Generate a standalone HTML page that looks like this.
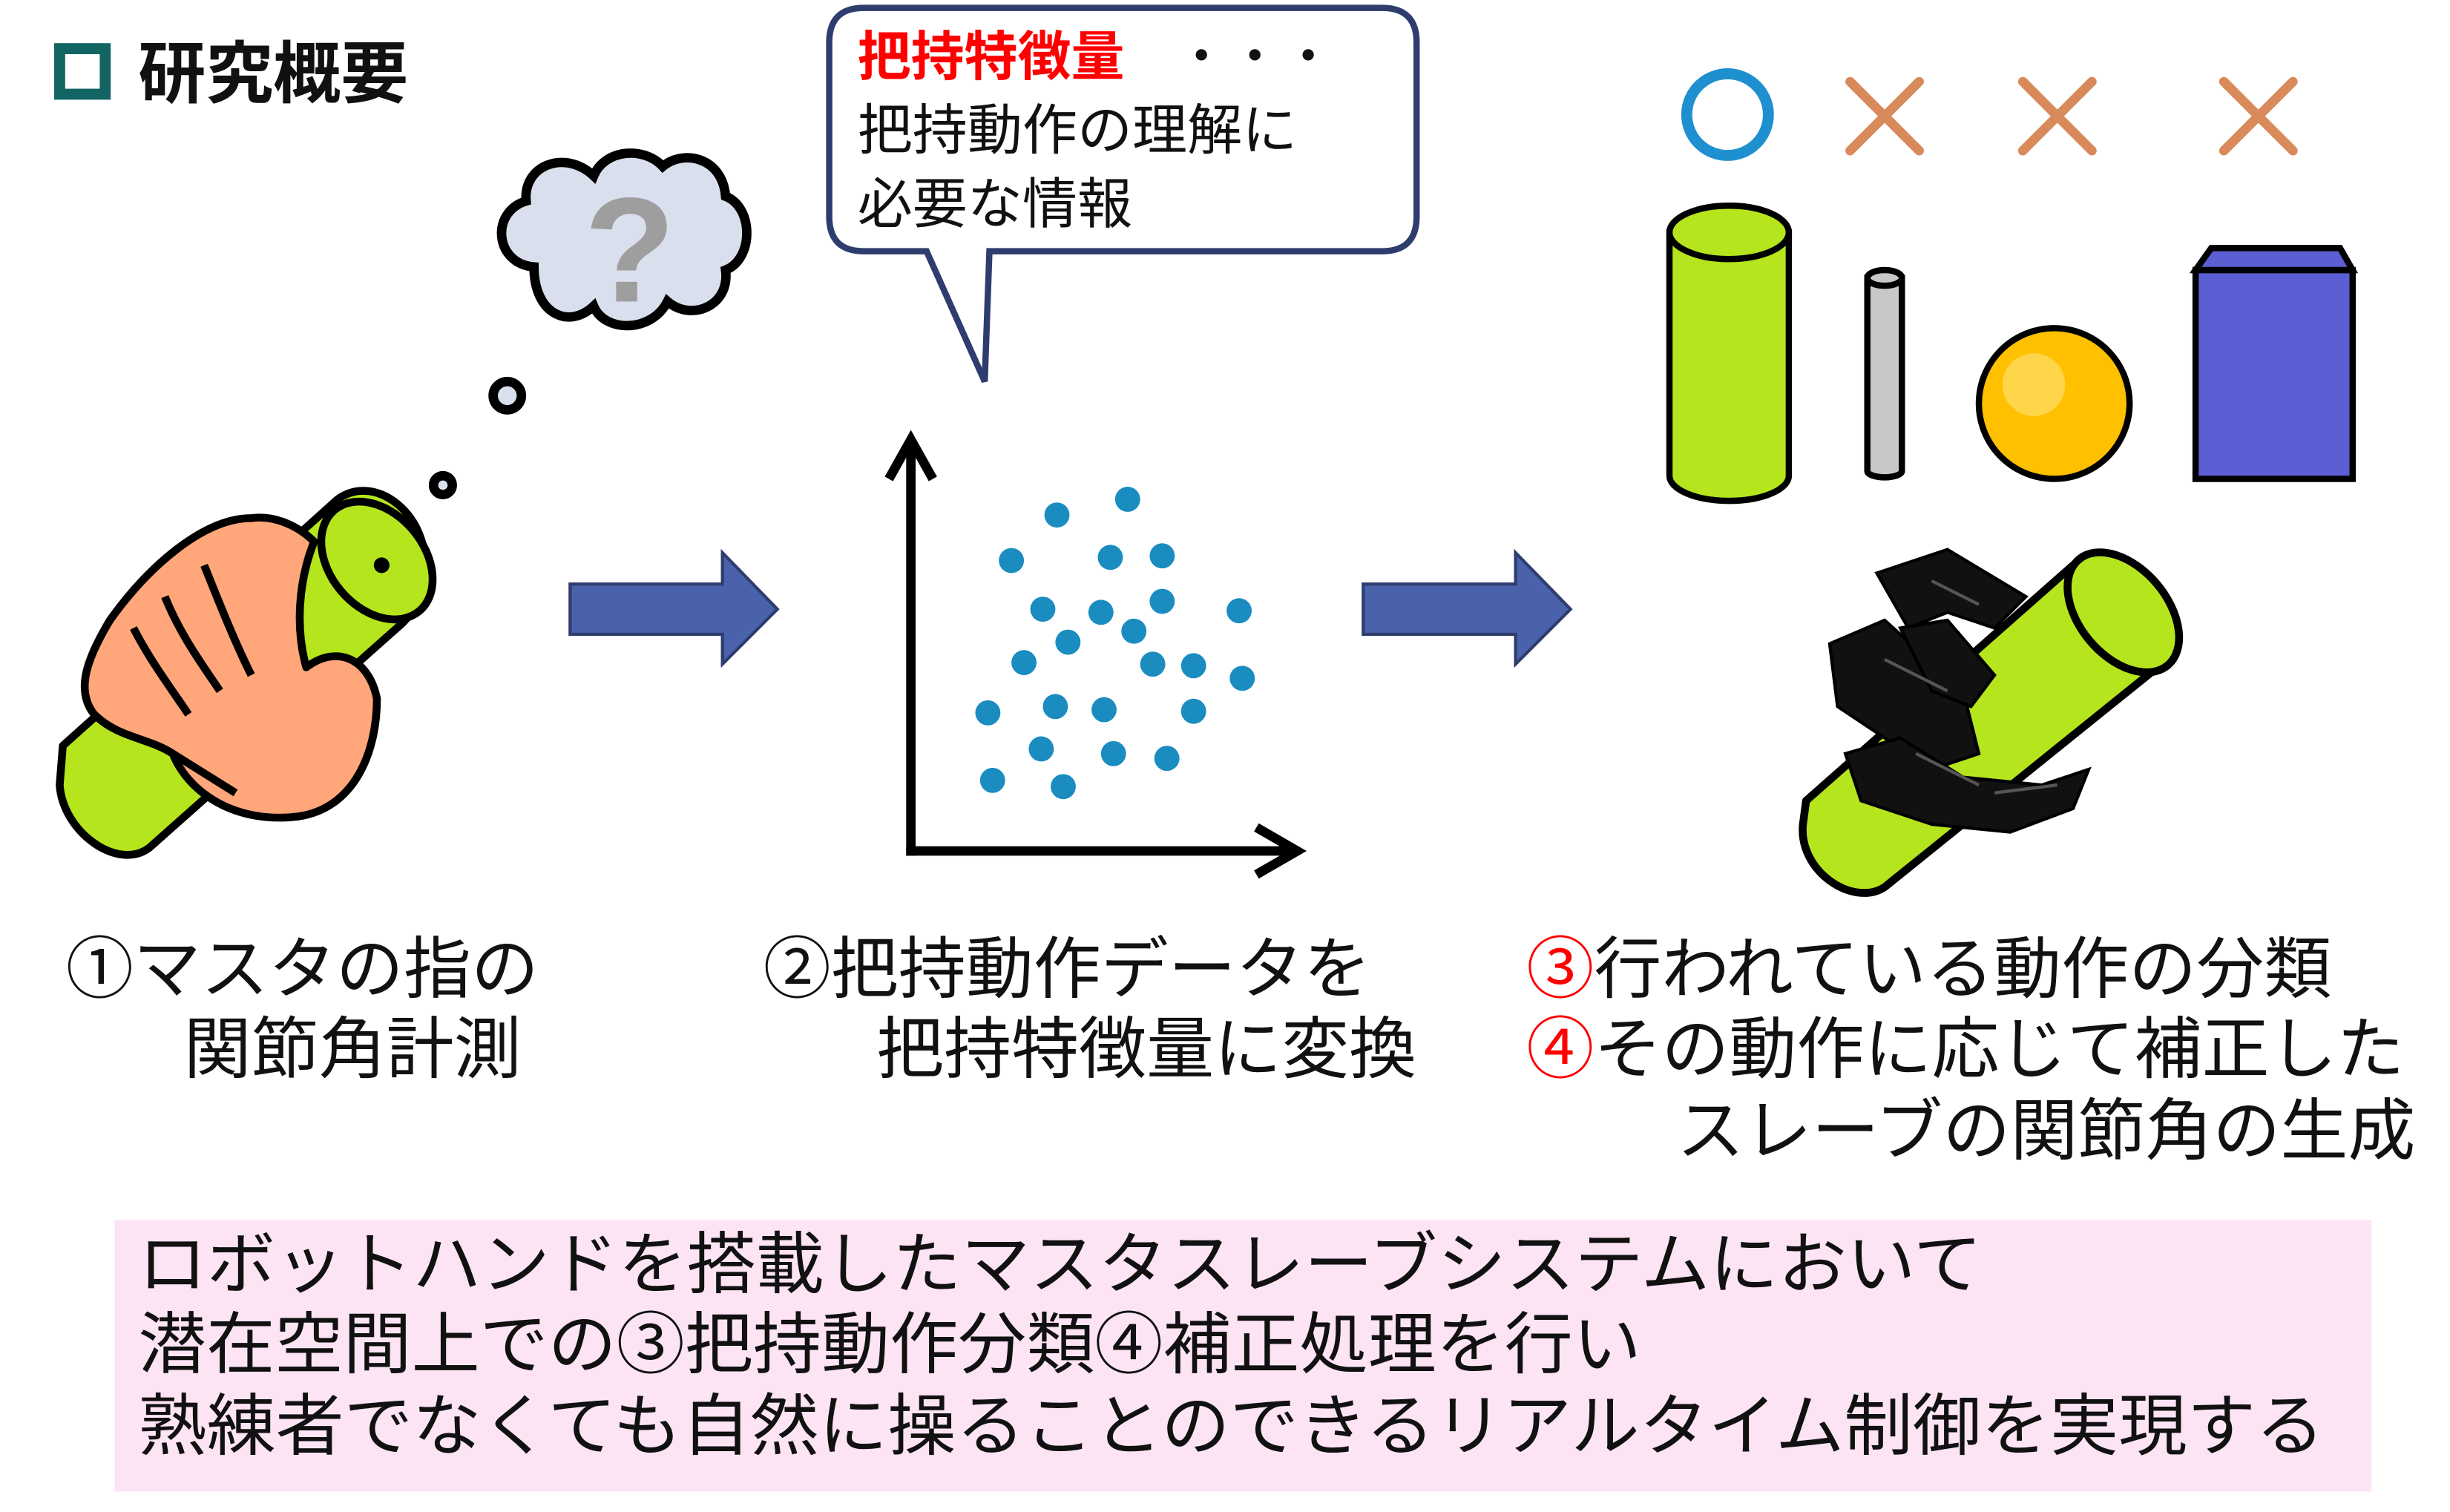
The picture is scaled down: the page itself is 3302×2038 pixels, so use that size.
<!DOCTYPE html>
<html><head><meta charset="utf-8"><style>
html,body{margin:0;padding:0;background:#fff;}
svg{display:block;}
text{font-family:"Liberation Sans","Noto Sans CJK JP",sans-serif;}
</style></head><body>
<svg width="3302" height="2038" viewBox="0 0 1560 963" preserveAspectRatio="none" xmlns="http://www.w3.org/2000/svg">
<rect width="1560" height="963" fill="#fff"/>
<!-- title -->
<rect x="38" y="31" width="29" height="29" fill="none" stroke="#136563" stroke-width="7"/>
<text x="88" y="62" font-size="43" font-weight="bold" fill="#111">研究概要</text>

<!-- thought cloud -->
<g stroke="#000" stroke-width="6" fill="#DADFEE">
<path d="M340,170 C315,168 312,135 335,128 C333,105 360,95 378,112 C385,95 410,93 422,106 C435,95 460,100 462,125 C480,132 480,165 462,172 C465,195 440,205 425,192 C415,212 385,212 378,195 C362,210 340,200 340,170 Z"/>
<circle cx="323" cy="252" r="9"/>
<circle cx="282" cy="309" r="6"/>
</g>
<text x="372" y="192" font-size="95" font-weight="bold" fill="#9E9E9E">?</text>

<!-- master hand -->
<g stroke="#000" stroke-width="5" stroke-linejoin="round">
<path d="M40,475 L215,318 C240,300 275,330 270,365 C268,380 262,392 255,398 L95,540 C75,555 40,530 38,500 Z" fill="#B5E61D"/>
<ellipse cx="240" cy="357" rx="30" ry="42" transform="rotate(-40 240 357)" fill="#B5E61D"/>
<path d="M160,330 C130,330 95,360 70,395 C55,420 48,440 60,455 C75,470 95,470 110,480 C120,505 150,525 190,520 C225,515 240,480 240,445 C235,420 215,410 195,425 C188,400 190,370 200,345 C190,335 175,328 160,330 Z" fill="#FFA67A"/>
<path d="M85,400 C95,420 110,440 120,455 M105,380 C115,405 130,425 140,440 M130,360 C140,385 150,410 160,430 M110,480 L150,505" fill="none"/>
</g>
<circle cx="243" cy="360" r="5" fill="#000"/>

<!-- arrows -->
<path d="M363,372 L460,372 L460,352 L495,388 L460,423 L460,404 L363,404 Z" fill="#4A62AC" stroke="#2E3D6E" stroke-width="2"/>
<path d="M868,372 L965,372 L965,352 L1000,388 L965,423 L965,404 L868,404 Z" fill="#4A62AC" stroke="#2E3D6E" stroke-width="2"/>

<!-- speech bubble -->
<path d="M550,5 L880,5 Q902,5 902,27 L902,138 Q902,160 880,160 L630,160 L627,243 L590,160 L550,160 Q528,160 528,138 L528,27 Q528,5 550,5 Z" fill="#fff" stroke="#2E3D6E" stroke-width="4"/>
<text x="546" y="48" font-size="34" font-weight="bold" fill="#FF0000">把持特徴量</text>
<text x="748" y="48" font-size="34" fill="#111">・・・</text>
<text x="546" y="95" font-size="35" fill="#111">把持動作の理解に</text>
<text x="546" y="142" font-size="35" fill="#111">必要な情報</text>

<!-- axes -->
<g stroke="#000" stroke-width="6" fill="none">
<line x1="580" y1="545" x2="580" y2="282"/>
<polyline points="566,305 580,280 594,305"/>
<line x1="577" y1="542" x2="826" y2="542"/>
<polyline points="800,527 826,542 800,557"/>
</g>
<g fill="#1A8CC0">
<circle cx="673" cy="328" r="8"/><circle cx="718" cy="318" r="8"/><circle cx="644" cy="357" r="8"/>
<circle cx="707" cy="355" r="8"/><circle cx="740" cy="354" r="8"/><circle cx="664" cy="388" r="8"/>
<circle cx="701" cy="390" r="8"/><circle cx="740" cy="383" r="8"/><circle cx="789" cy="389" r="8"/>
<circle cx="680" cy="409" r="8"/><circle cx="722" cy="402" r="8"/><circle cx="652" cy="422" r="8"/>
<circle cx="734" cy="423" r="8"/><circle cx="760" cy="424" r="8"/><circle cx="791" cy="432" r="8"/>
<circle cx="629" cy="454" r="8"/><circle cx="672" cy="450" r="8"/><circle cx="703" cy="452" r="8"/>
<circle cx="760" cy="453" r="8"/><circle cx="663" cy="477" r="8"/><circle cx="709" cy="480" r="8"/>
<circle cx="743" cy="483" r="8"/><circle cx="632" cy="497" r="8"/><circle cx="677" cy="501" r="8"/>
</g>

<!-- right top markers -->
<circle cx="1100" cy="73" r="26" fill="none" stroke="#1E90D0" stroke-width="7"/>
<g stroke="#D88A5A" stroke-width="6" stroke-linecap="round">
<line x1="1178" y1="52" x2="1222" y2="96"/><line x1="1222" y1="52" x2="1178" y2="96"/>
<line x1="1288" y1="52" x2="1332" y2="96"/><line x1="1332" y1="52" x2="1288" y2="96"/>
<line x1="1416" y1="52" x2="1460" y2="96"/><line x1="1460" y1="52" x2="1416" y2="96"/>
</g>
<!-- objects -->
<g stroke="#000" stroke-width="4">
<path d="M1063,148 L1063,303 A38,16 0 0 0 1139,303 L1139,148 Z" fill="#B5E61D"/>
<ellipse cx="1101" cy="148" rx="38" ry="17" fill="#B5E61D"/>
<path d="M1189,177 L1189,300 A11,4 0 0 0 1211,300 L1211,177 Z" fill="#C8C8C8"/>
<ellipse cx="1200" cy="177" rx="11" ry="5" fill="#C8C8C8"/>
<circle cx="1308" cy="257" r="48" fill="#FFC000"/>
<path d="M1398,172 L1498,172 L1498,305 L1398,305 Z" fill="#5B5FD3"/>
<path d="M1398,172 L1408,158 L1490,158 L1498,172 Z" fill="#5B5FD3"/>
</g>
<circle cx="1295" cy="245" r="20" fill="#FFE27A" opacity="0.6"/>

<!-- robot hand -->
<g stroke="#000" stroke-width="5" stroke-linejoin="round">
<path d="M1150,510 L1320,360 C1345,345 1385,380 1380,420 L1200,565 C1180,578 1145,555 1148,525 Z" fill="#B5E61D"/>
<ellipse cx="1352" cy="390" rx="28" ry="44" transform="rotate(-40 1352 390)" fill="#B5E61D"/>
</g>
<g fill="#111" stroke="#000" stroke-width="2">
<path d="M1195,365 L1240,350 L1290,380 L1270,400 L1240,390 L1215,400 Z"/>
<path d="M1165,410 L1200,395 L1250,440 L1260,480 L1230,490 L1200,470 L1170,450 Z"/>
<path d="M1175,480 L1210,470 L1250,495 L1300,500 L1330,490 L1320,515 L1280,530 L1230,525 L1185,510 Z"/>
<path d="M1210,400 L1240,395 L1270,430 L1255,450 L1230,440 Z"/>
</g>
<g fill="none" stroke="#555" stroke-width="2">
<path d="M1200,420 L1240,440 M1220,480 L1260,500 M1270,505 L1310,500 M1230,370 L1260,385"/>
</g>

<!-- labels -->
<g font-size="43" fill="#111">
<text x="42" y="632">①マスタの指の</text>
<text x="117" y="683">関節角計測</text>
<text x="486" y="632">②把持動作データを</text>
<text x="558" y="683">把持特徴量に変換</text>
<text x="972" y="632"><tspan fill="#FF0000">③</tspan>行われている動作の分類</text>
<text x="972" y="683"><tspan fill="#FF0000">④</tspan>その動作に応じて補正した</text>
<text x="1538" y="735" text-anchor="end">スレーブの関節角の生成</text>
</g>

<!-- bottom box -->
<rect x="73" y="777" width="1437" height="173" fill="#FCE4F4"/>
<g font-size="43" fill="#111">
<text x="88" y="820" textLength="1174" lengthAdjust="spacingAndGlyphs">ロボットハンドを搭載したマスタスレーブシステムにおいて</text>
<text x="88" y="871" textLength="957" lengthAdjust="spacingAndGlyphs">潜在空間上での③把持動作分類④補正処理を行い</text>
<text x="88" y="923" textLength="1392" lengthAdjust="spacingAndGlyphs">熟練者でなくても自然に操ることのできるリアルタイム制御を実現する</text>
</g>
</svg>
</body></html>
